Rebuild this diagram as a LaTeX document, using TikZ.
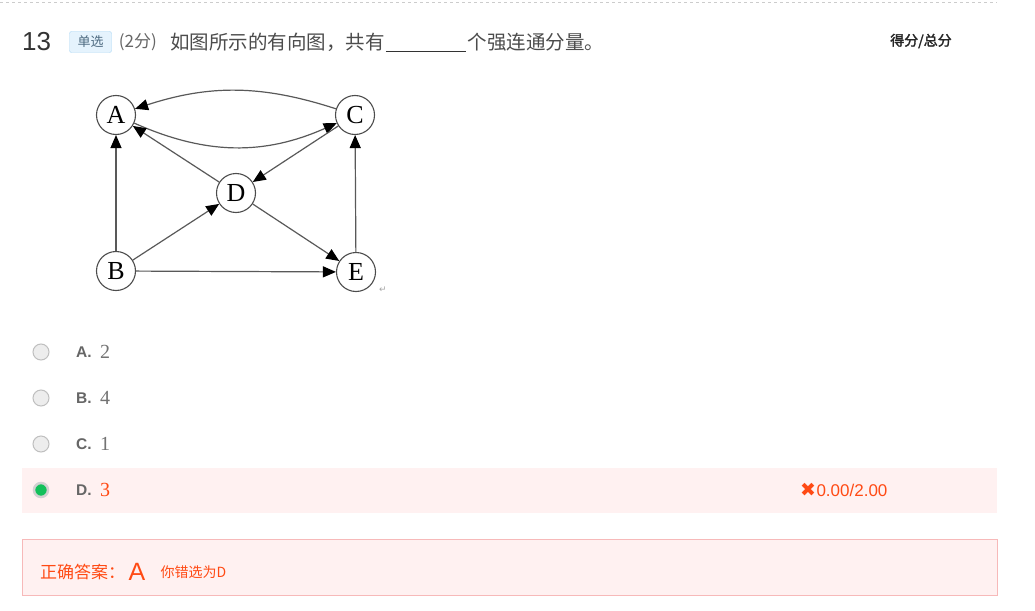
\documentclass[tikz,border=0pt]{standalone}
\usepackage{fontspec}
\setmainfont{Liberation Sans}
\newfontfamily\cjk{Noto Sans CJK SC}
\newfontfamily\cjkb{Noto Sans CJK SC}[AutoFakeBold=2]
\newfontfamily\tnr{Liberation Serif}
\newfontfamily\sym{DejaVu Sans}
\usetikzlibrary{arrows.meta,positioning}
\definecolor{txt}{HTML}{333333}
\definecolor{gry}{HTML}{666666}
\definecolor{wrong}{HTML}{FF4A14}
\definecolor{pinkbg}{HTML}{FFF1F1}
\definecolor{pinkline}{HTML}{F7B9B9}
\definecolor{tagbg}{HTML}{E5F3FD}
\definecolor{tagline}{HTML}{A9D6F5}
\definecolor{tagtxt}{HTML}{4D6A80}
\definecolor{ok}{HTML}{12C05A}

\begin{document}
\begin{tikzpicture}[
    x=1pt,y=-1pt,
    plain/.style={inner sep=0pt,anchor=west},
    tagbox/.style={draw=tagline,fill=tagbg,rounded corners=2pt,inner sep=0pt,
               minimum width=42pt,minimum height=21pt,text=tagtxt,
               font=\cjk\fontsize{13}{13}\selectfont},
    vert/.style={draw=black!70,line width=1.1pt,circle,minimum size=39pt,inner sep=0pt,
               fill=white,font=\tnr\fontsize{26}{26}\selectfont},
    arc/.style={draw=black!65,line width=1.2pt,
               -{Triangle[length=13pt,width=11pt,color=black]}},
    radio/.style={circle,draw=black!25,fill=black!7,line width=1pt,
               minimum size=16pt,inner sep=0pt},
    optkey/.style={plain,font=\bfseries\fontsize{15.5}{15.5}\selectfont,text=gry},
    optval/.style={plain,font=\tnr\fontsize{20}{20}\selectfont,text=black!55}
  ]
    \fill[white] (0,0) rectangle (1035,610);
    \useasboundingbox (0,0) rectangle (1035,610);
    \draw[black!20,dashed] (0,2) -- (997,2);

    %% question line
    \node[plain,text=txt,font=\fontsize{26}{26}\selectfont] (num) at (22,42) {13};
    \node[tagbox,right=18pt of num] (tag) {单选};
    \node[plain,right=7pt of tag,text=gry,font=\cjk\fontsize{17}{17}\selectfont] (pts) {(2分)};
    \node[plain,right=13pt of pts,text=black!70,font=\cjk\fontsize{19.5}{19.5}\selectfont]
      (q1) {如图所示的有向图，共有};
    \node[plain,right=1pt of q1,minimum width=80pt,minimum height=18pt] (gap) {};
    \node[plain,right=1pt of gap,text=black!70,font=\cjk\fontsize{19.5}{19.5}\selectfont]
      (q2) {个强连通分量。};
    \draw[txt] (gap.south west) -- (gap.south east);
    \node[text=black!85,font=\cjkb\bfseries\fontsize{14}{14}\selectfont] (head) at (921,41) {得分/总分};

    %% the graph
    \node[vert] (A) at (116,115) {A};
    \node[vert] (C) at (355,115) {C};
    \node[vert] (D) at (236,193) {D};
    \node[vert] (B) at (116,271) {B};
    \node[vert] (E) at (356,272) {E};

    \draw[arc] (C) to[bend right=18] (A);
    \draw[arc] (A) to[bend right=24] (C);
    \draw[arc] (D) -- (A);
    \draw[arc] (C) -- (D);
    \draw[arc] (B) -- (A);
    \draw[arc] (B) -- (D);
    \draw[arc] (D) -- (E);
    \draw[arc] (B) -- (E);
    \draw[arc] (E) -- (C);
    \node[text=black!35,font=\sym\fontsize{9}{9}\selectfont] (ret) at (383,290) {↵};

    %% options
    \node[radio] (rA) at (41,352) {};
    \node[optkey] (kA) at (76,352) {A.};
    \node[optval] (vA) at (100,352) {2};
    \node[radio] (rB) at (41,398) {};
    \node[optkey] (kB) at (76,398) {B.};
    \node[optval] (vB) at (100,398) {4};
    \node[radio] (rC) at (41,444) {};
    \node[optkey] (kC) at (76,444) {C.};
    \node[optval] (vC) at (100,444) {1};
    \fill[pinkbg] (22,468) rectangle (997,513);
    \node[radio,fill=ok,draw=black!18,line width=2.5pt,minimum size=14pt] (rD) at (41,490) {};
    \node[optkey] (kD) at (76,490) {D.};
    \node[optval,text=wrong] (vD) at (100,490) {3};
    \node[plain,text=wrong,font=\sym\fontsize{19}{19}\selectfont] (mark) at (800,490) {✖};
    \node[plain,right=0pt of mark,text=wrong,font=\fontsize{17}{17}\selectfont] (score) {0.00/2.00};

    %% answer box
    \draw[pinkline,fill=pinkbg] (22,539) rectangle (997,595);
    \node[plain,text=wrong,font=\cjk\fontsize{17}{17}\selectfont] (ans) at (40,572) {正确答案：};
    \node[plain,right=3pt of ans,text=wrong,font=\fontsize{25}{25}\selectfont] (key) {A};
    \node[plain,right=15pt of key,text=wrong,font=\cjk\fontsize{14}{14}\selectfont] (mine) {你错选为D};
  \end{tikzpicture}
\end{document}
